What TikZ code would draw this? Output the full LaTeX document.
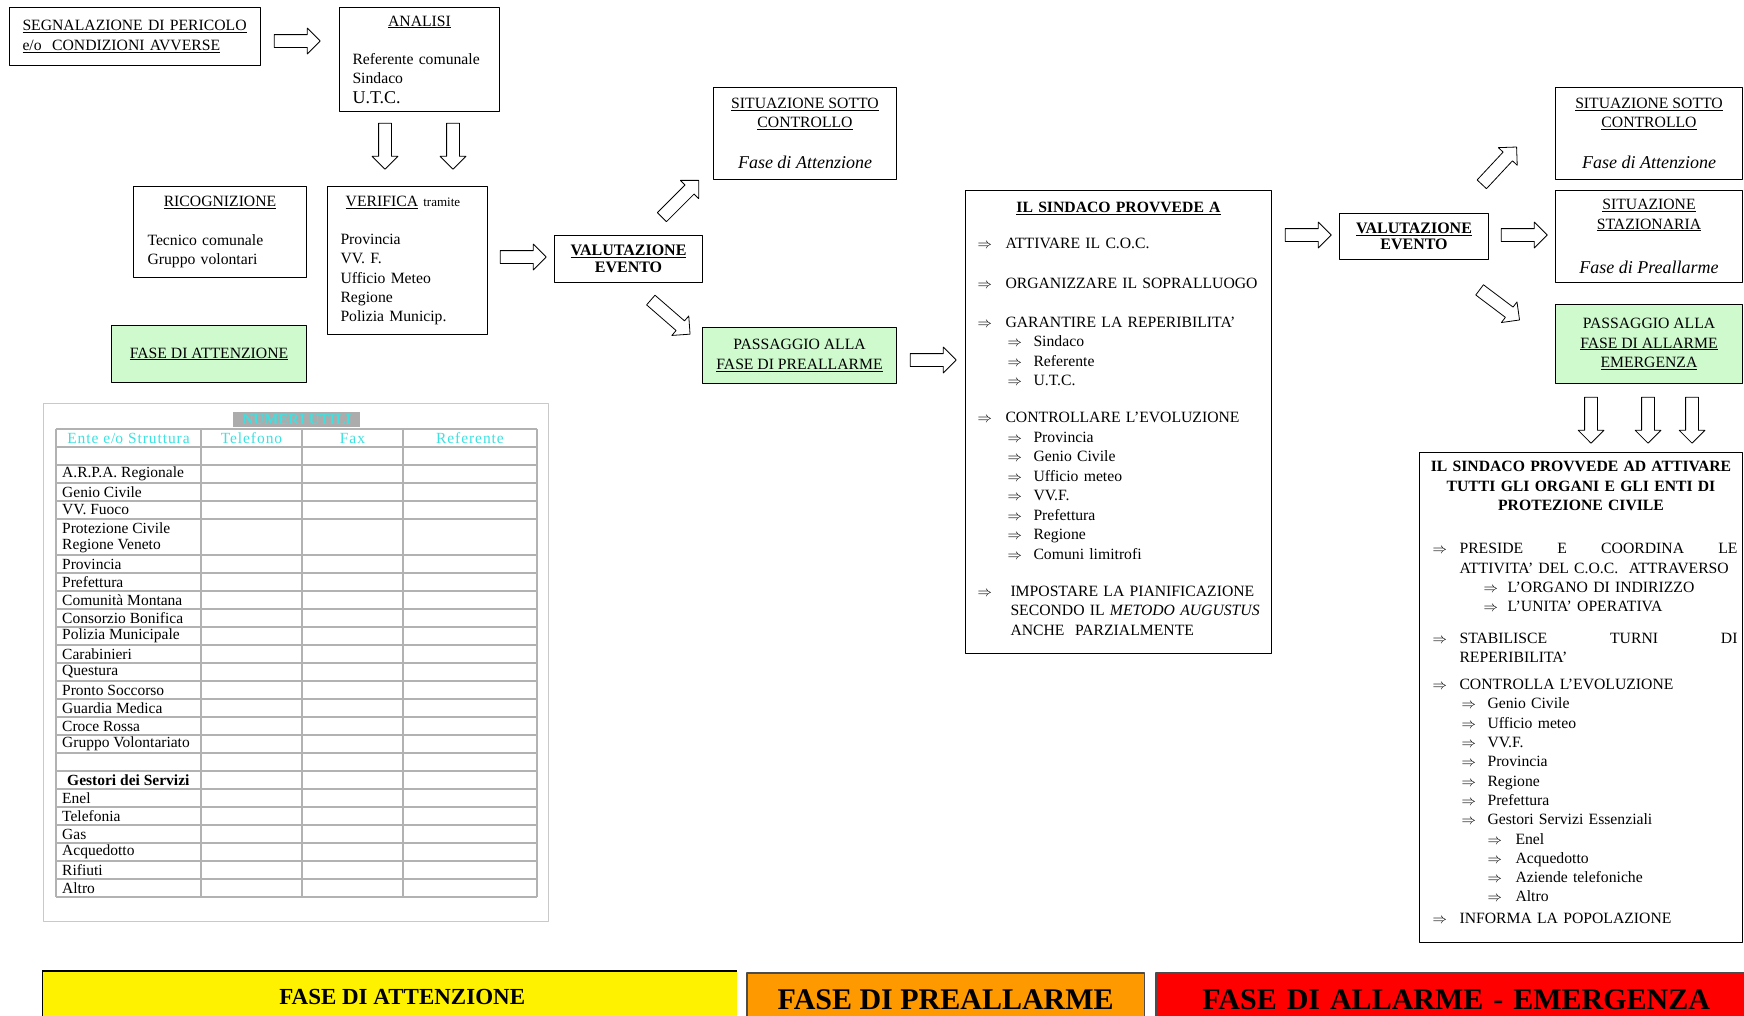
\documentclass[tikz,border=0pt]{standalone}
\usepackage{fontspec}
\setmainfont{Liberation Serif}
\usetikzlibrary{shapes.arrows}
\definecolor{verdino}{RGB}{206,250,206}
\definecolor{ciano}{RGB}{60,225,225}
\definecolor{grigiot}{RGB}{178,178,178}
\definecolor{arancio}{RGB}{255,153,0}
\newcommand{\frec}[1]{\makebox[#1][l]{$\Rightarrow$}}
\begin{document}
\begin{tikzpicture}[x=1pt, y=-1pt, line join=round, font=\fontsize{15.7}{19.3}\selectfont,
	box/.style={draw, line width=1pt, anchor=north west, inner ysep=0pt, align=left},
	verde/.style={box, fill=verdino},
	freccia/.style={single arrow, draw, line width=.8pt, fill=white, minimum height=46pt, inner xsep=0pt, inner ysep=6pt,
		single arrow head extend=6.5pt, single arrow head indent=0pt},
	barra/.style={anchor=north west, inner sep=0pt, minimum height=52pt, font=\bfseries\fontsize{30}{30}\selectfont}]
	\useasboundingbox (0,0) rectangle (1744,1015);
	\node[box, minimum width=251pt, minimum height=58pt, text width=225pt, inner xsep=13pt] (segn) at (9,7)
	{\underline{SEGNALAZIONE DI PERICOLO}\\\underline{e/o\ \ CONDIZIONI AVVERSE}};
	\node[box, minimum width=160pt, minimum height=104pt, text width=134pt, inner xsep=13pt] (anal) at (339,7)
	{\makebox[134pt]{\underline{ANALISI}}\\[19pt]Referente comunale\\Sindaco\\{\fontsize{18}{19}\selectfont U.T.C.}};
	\node[box, minimum width=173pt, minimum height=91pt, text width=145pt, inner xsep=14pt] (ric) at (133,186)
	{\makebox[145pt]{\underline{RICOGNIZIONE}}\\[19pt]Tecnico comunale\\Gruppo volontari};
	\node[box, minimum width=160pt, minimum height=148pt, text width=134pt, inner xsep=13pt] (ver) at (327,186)
	{\ \underline{VERIFICA} {\fontsize{13}{19}\selectfont tramite}\\[19pt]Provincia\\VV. F.\\Ufficio Meteo\\Regione\\Polizia Municip.};
	\node[verde, minimum width=195pt, minimum height=57pt, align=center] (fatt) at (111,325) {\underline{FASE DI ATTENZIONE}};
	\node[box, minimum width=148pt, minimum height=47pt, align=center, font=\bfseries\fontsize{16}{16.5}\selectfont] (val1) at (554,235)
	{\underline{VALUTAZIONE}\\EVENTO};
	\node[box, minimum width=183pt, minimum height=92pt, align=center] (sit1) at (713,87)
	{\underline{SITUAZIONE SOTTO}\\\underline{CONTROLLO}\\[22pt]{\fontsize{18}{19}\selectfont\itshape Fase di Attenzione}};
	\node[verde, minimum width=194pt, minimum height=56pt, align=center] (pre1) at (702,327)
	{PASSAGGIO ALLA\\\underline{FASE DI PREALLARME}};
	\node[box, minimum width=306pt, minimum height=463pt, text width=282pt, inner xsep=12pt, font=\fontsize{15.7}{19.5}\selectfont] (sind1) at (965,190)
	{\makebox[282pt]{\textbf{\underline{IL SINDACO PROVVEDE A}}}\\[16pt]
		\frec{28pt}ATTIVARE IL C.O.C.\\[21pt]
		\frec{28pt}\mbox{ORGANIZZARE IL SOPRALLUOGO}\\[19pt]
		\frec{28pt}GARANTIRE LA REPERIBILITA'\\
		\hspace*{30pt}\frec{26pt}Sindaco\\
		\hspace*{30pt}\frec{26pt}Referente\\
		\hspace*{30pt}\frec{26pt}U.T.C.\\[17.5pt]
		\frec{28pt}CONTROLLARE L'EVOLUZIONE\\
		\hspace*{30pt}\frec{26pt}Provincia\\
		\hspace*{30pt}\frec{26pt}Genio Civile\\
		\hspace*{30pt}\frec{26pt}Ufficio meteo\\
		\hspace*{30pt}\frec{26pt}VV.F.\\
		\hspace*{30pt}\frec{26pt}Prefettura\\
		\hspace*{30pt}\frec{26pt}Regione\\
		\hspace*{30pt}\frec{26pt}Comuni limitrofi\\[17.5pt]
		\frec{33pt}\mbox{IMPOSTARE LA PIANIFICAZIONE}\\
		\hspace*{33pt}\mbox{SECONDO IL \textit{METODO AUGUSTUS}}\\
		\hspace*{33pt}\mbox{ANCHE\ \ PARZIALMENTE}\\[-13pt]\mbox{}};
	\node[box, minimum width=149pt, minimum height=46pt, align=center, font=\bfseries\fontsize{16}{16.5}\selectfont] (val2) at (1339,213)
	{\underline{VALUTAZIONE}\\EVENTO};
	\node[box, minimum width=187pt, minimum height=92pt, align=center] (sit2) at (1555,87)
	{\underline{SITUAZIONE SOTTO}\\\underline{CONTROLLO}\\[22pt]{\fontsize{18}{19}\selectfont\itshape Fase di Attenzione}};
	\node[box, minimum width=187pt, minimum height=92pt, align=center] (sta2) at (1555,190)
	{\underline{SITUAZIONE}\\\underline{STAZIONARIA}\\[25pt]{\fontsize{18}{19}\selectfont\itshape Fase di Preallarme}};
	\node[verde, minimum width=187pt, minimum height=79pt, align=center] (all2) at (1555,304)
	{PASSAGGIO ALLA\\\underline{FASE DI ALLARME}\\\underline{EMERGENZA}};
	\node[box, minimum width=323pt, minimum height=490pt, text width=297pt, inner xsep=13pt] (sind2) at (1419,452)
	{\makebox[297pt]{\textbf{IL SINDACO PROVVEDE AD ATTIVARE}}\\
		\makebox[297pt]{\textbf{TUTTI GLI ORGANI E GLI ENTI DI}}\\
		\makebox[297pt]{\textbf{PROTEZIONE CIVILE}}\\[24pt]
		\frec{27pt}\makebox[278pt][s]{PRESIDE\hfill E\hfill COORDINA\hfill LE}\\
		\hspace*{27pt}\makebox[278pt][s]{ATTIVITA' DEL C.O.C.\ \ ATTRAVERSO}\\
		\hspace*{51pt}\frec{24pt}L'ORGANO DI INDIRIZZO\\
		\hspace*{51pt}\frec{24pt}L'UNITA' OPERATIVA\\[12pt]
		\frec{27pt}\makebox[278pt][s]{STABILISCE\hfill TURNI\hfill DI}\\
		\hspace*{27pt}REPERIBILITA'\\[8pt]
		\frec{27pt}CONTROLLA L'EVOLUZIONE\\
		\hspace*{29pt}\frec{26pt}Genio Civile\\
		\hspace*{29pt}\frec{26pt}Ufficio meteo\\
		\hspace*{29pt}\frec{26pt}VV.F.\\
		\hspace*{29pt}\frec{26pt}Provincia\\
		\hspace*{29pt}\frec{26pt}Regione\\
		\hspace*{29pt}\frec{26pt}Prefettura\\
		\hspace*{29pt}\frec{26pt}Gestori Servizi Essenziali\\
		\hspace*{55pt}\frec{28pt}Enel\\
		\hspace*{55pt}\frec{28pt}Acquedotto\\
		\hspace*{55pt}\frec{28pt}Aziende telefoniche\\
		\hspace*{55pt}\frec{28pt}Altro\\[2pt]
		\frec{27pt}INFORMA LA POPOLAZIONE\\[-9pt]\mbox{}};
	\node[freccia] (f1) at (294,41) {};
	\node[freccia, rotate=-90] (f2) at (385,143) {};
	\node[freccia, rotate=-90] (f3) at (453,143) {};
	\node[freccia] (f4) at (520,257) {};
	\node[freccia, rotate=45, minimum height=52pt] (f5) at (678,201) {};
	\node[freccia, rotate=-41, minimum height=52pt] (f6) at (668,315) {};
	\node[freccia] (f7) at (930,360) {};
	\node[freccia] (f8) at (1305,235) {};
	\node[freccia] (f9) at (1521,235) {};
	\node[freccia, rotate=47, minimum height=51pt] (f10) at (1497,168) {};
	\node[freccia, rotate=-37, minimum height=50pt] (f11) at (1497,303) {};
	\foreach \xx in {1591,1648,1692}
	\node[freccia, rotate=-90] (g\xx) at (\xx,417) {};
	\draw[grigiot!70, line width=1pt] (43,403) rectangle (548,921);
	\fill[gray!65] (233,412) rectangle (360,427);
	\node[text=ciano, inner sep=0pt, font=\bfseries\fontsize{15}{15}\selectfont] (numeri) at (297,419.5) {NUMERI UTILI};
	\foreach \xx in {56,201,302,403,537}
	\draw[grigiot, line width=1.5pt] (\xx,429) -- (\xx,897);
	\foreach \yy in {429,447,...,519,555,573,...,897}
	\draw[grigiot, line width=1.5pt] (56,\yy) -- (537,\yy);
	\foreach \xx/\intest in {128.5/{Ente e\slash o Struttura}, 251.5/Telefono, 352.5/Fax, 470/Referente}
	\node[text=ciano, inner sep=0pt, font=\fontsize{15.5}{15}\selectfont\addfontfeature{LetterSpace=6}] (h\xx) at (\xx,438) {\intest};
	\foreach \riga/\nome in {1/{A.R.P.A. Regionale}, 2/{Genio Civile}, 3/{VV. Fuoco}, 4/{Protezione Civile},
		5/{Regione Veneto}, 6/Provincia, 7/Prefettura, 8/{Comunità Montana}, 9/{Consorzio Bonifica},
		10/{Polizia Municipale}, 11/Carabinieri, 12/Questura, 13/{Pronto Soccorso}, 14/{Guardia Medica},
		15/{Croce Rossa}, 16/{Gruppo Volontariato}, 18/{\hspace*{5pt}\textbf{Gestori dei Servizi}},
		19/Enel, 20/Telefonia, 21/Gas, 22/Acquedotto, 23/Rifiuti, 24/Altro}
	\node[anchor=west, inner sep=0pt, font=\fontsize{15.5}{15}\selectfont] (r\riga) at (62,{456+18*\riga}) {\nome};
	\node[barra, fill=yellow, minimum width=695pt, font=\bfseries\fontsize{23}{23}\selectfont] (att) at (42,971) {\hspace*{25pt}FASE DI ATTENZIONE};
	\draw[line width=2.5pt] (att.north west) -- (att.north east);
	\draw[line width=1pt] (att.north west) -- (att.south west);
	\node[barra, fill=arancio, minimum width=397pt] (preall) at (747,973) {FASE DI PREALLARME};
	\draw[gray!60!black, line width=1.2pt] (preall.south west) -- (preall.north west) -- (preall.north east) -- (preall.south east);
	\node[barra, fill=red, minimum width=600pt, text width=588pt, align=center] (allarme) at (1156,973) {FASE DI ALLARME - EMERGENZA};
	\draw[gray!60!black, line width=1.2pt] (allarme.south west) -- (allarme.north west) -- (allarme.north east);
\end{tikzpicture}
\end{document}
